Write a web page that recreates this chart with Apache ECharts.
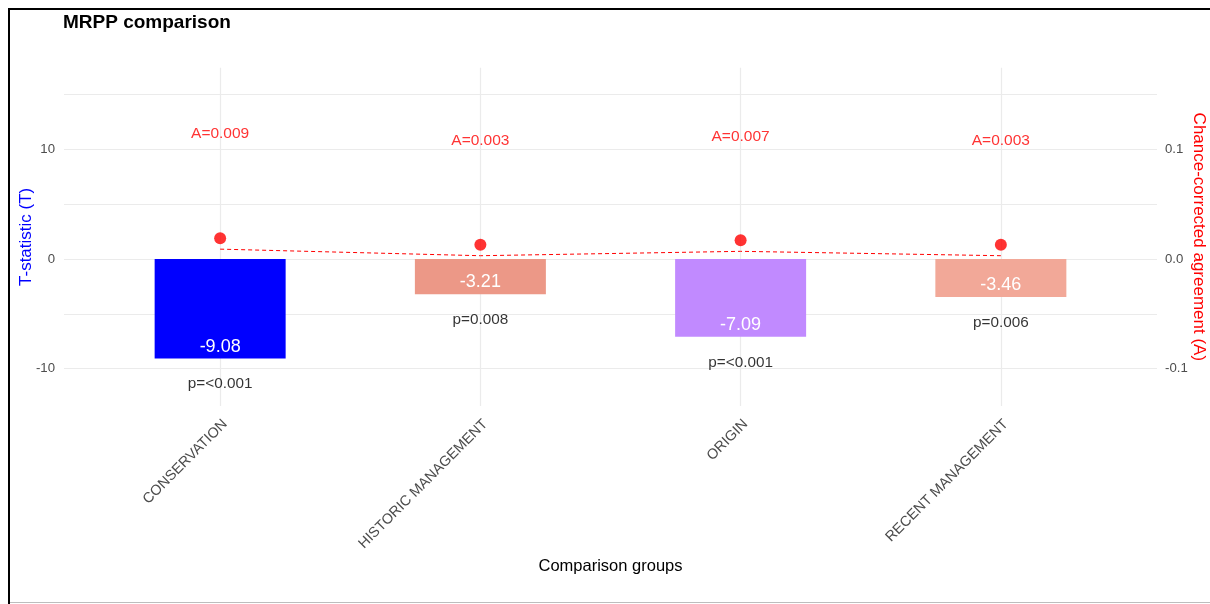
<!DOCTYPE html>
<html>
<head>
<meta charset="utf-8">
<script src="https://cdn.jsdelivr.net/npm/echarts@6/dist/echarts.min.js"></script>
<style>
  html, body { margin: 0; padding: 0; background: #ffffff; }
  #chart { width: 1210px; height: 604px; }
</style>
</head>
<body>
<div id="chart"></div>
<script>
// Comparison groups and MRPP results
const groups = ['CONSERVATION', 'HISTORIC MANAGEMENT', 'ORIGIN', 'RECENT MANAGEMENT'];
const tStat = [-9.08, -3.21, -7.09, -3.46];
const agreementA = [0.009, 0.003, 0.007, 0.003];
const pLabels = ['p=<0.001', 'p=0.008', 'p=<0.001', 'p=0.006'];
const barColors = ['#0000FF', '#EC9887', '#C18AFF', '#F2A898'];

// Axis ticks
const tTicks = [-10, 0, 10];
const tGrid = [-10, -5, 0, 5, 10, 15];
const aTicks = [-0.1, 0, 0.1];

const FONT = '"Liberation Sans", Arial, sans-serif';
const chart = echarts.init(document.getElementById('chart'));

const idx = groups.map((_, i) => i);

chart.setOption({
  animation: false,
  backgroundColor: '#ffffff',
  textStyle: { fontFamily: FONT },
  title: {
    text: 'MRPP comparison',
    left: 58, top: 8,
    textStyle: { fontSize: 19, fontWeight: 'bold', color: '#000000', fontFamily: FONT }
  },
  grid: { left: 64, right: 53, top: 67.7, bottom: 198, outerBoundsMode: 'none', containLabel: false },
  xAxis: {
    type: 'value',
    min: -0.6, max: 3.6,
    name: 'Comparison groups',
    nameLocation: 'middle',
    nameGap: 152,
    nameMoveOverlap: false,
    nameTextStyle: { fontSize: 16.5, color: '#000000', fontFamily: FONT },
    axisLine: { show: false },
    axisTick: { show: false, customValues: idx },
    splitLine: { show: true, lineStyle: { color: '#ebebeb', width: 1.2 } },
    axisLabel: {
      customValues: idx,
      rotate: 45,
      margin: 11,
      verticalAlign: 'top',
      fontSize: 14.4,
      color: '#4d4d4d',
      fontFamily: FONT,
      formatter: v => groups[Math.round(v)]
    }
  },
  yAxis: [
    {
      type: 'value',
      min: -13.4, max: 17.44,
      name: 'T-statistic (T)',
      nameLocation: 'middle',
      nameGap: 29,
      nameMoveOverlap: false,
      nameTextStyle: { fontSize: 17, color: '#0000FF', fontFamily: FONT },
      axisLine: { show: false },
      axisTick: { show: false, customValues: tGrid },
      splitLine: { show: true, lineStyle: { color: '#ebebeb', width: 1.2 } },
      axisLabel: {
        customValues: tTicks,
        margin: 9,
        fontSize: 13.2,
        color: '#4d4d4d',
        fontFamily: FONT
      }
    },
    {
      type: 'value',
      position: 'right',
      min: -0.134, max: 0.1744,
      name: 'Chance-corrected agreement (A)',
      nameLocation: 'middle',
      nameRotate: -90,
      nameGap: 33,
      nameMoveOverlap: false,
      nameTextStyle: { fontSize: 17, color: '#FF0000', fontFamily: FONT },
      axisLine: { show: false },
      axisTick: { show: false, customValues: aTicks },
      splitLine: { show: false },
      axisLabel: {
        customValues: aTicks,
        margin: 8,
        fontSize: 13.2,
        color: '#4d4d4d',
        fontFamily: FONT,
        formatter: v => v.toFixed(1)
      }
    }
  ],
  series: [
    {
      // T statistic bars
      type: 'bar',
      yAxisIndex: 0,
      barWidth: 131,
      data: tStat.map((t, i) => ({ value: [i, t], itemStyle: { color: barColors[i] } })),
      label: {
        show: true,
        position: 'insideBottom',
        distance: 3,
        fontSize: 18,
        color: '#ffffff',
        fontFamily: FONT,
        formatter: p => p.value[1].toFixed(2)
      },
      z: 2
    },
    {
      // p-value labels under each bar
      type: 'scatter',
      yAxisIndex: 0,
      symbolSize: 0,
      silent: true,
      data: tStat.map((t, i) => [i, t]),
      label: {
        show: true,
        position: 'bottom',
        distance: 18,
        fontSize: 15.3,
        color: '#000000',
        fontFamily: FONT,
        formatter: p => pLabels[p.dataIndex]
      },
      z: 3
    },
    {
      // A trend line
      type: 'line',
      yAxisIndex: 1,
      data: agreementA.map((a, i) => [i, a]),
      symbol: 'none',
      lineStyle: { color: '#FF0000', width: 1, type: [4, 3] },
      z: 3
    },
    {
      // A points with their labels
      type: 'scatter',
      yAxisIndex: 1,
      symbol: 'circle',
      symbolSize: 12,
      symbolOffset: [0, -11],
      itemStyle: { color: '#FF0000' },
      data: agreementA.map((a, i) => [i, a]),
      label: {
        show: true,
        position: 'top',
        distance: 90,
        fontSize: 15.5,
        color: '#FF0000',
        fontFamily: FONT,
        formatter: p => 'A=' + p.value[1].toFixed(3)
      },
      z: 4
    }
  ],
  graphic: [
    { type: 'rect', shape: { x: 8, y: 8, width: 1210, height: 2 }, style: { fill: '#000000' }, silent: true },
    { type: 'rect', shape: { x: 8, y: 8, width: 2, height: 604 }, style: { fill: '#000000' }, silent: true },
    { type: 'rect', shape: { x: 10, y: 602, width: 1200, height: 1 }, style: { fill: '#bdbdbd' }, silent: true }
  ]
});
</script>
</body>
</html>
